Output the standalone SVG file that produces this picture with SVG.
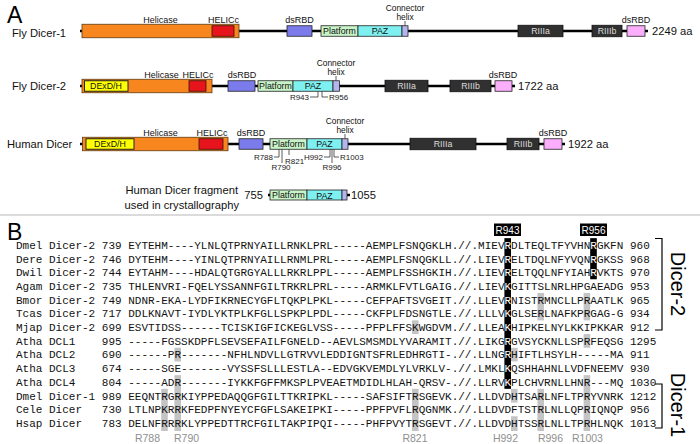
<svg xmlns="http://www.w3.org/2000/svg" width="700" height="444" viewBox="0 0 700 444">
<style>
.sans{font-family:"Liberation Sans",Arial,sans-serif}
.panel{font-family:"Liberation Sans",Arial,sans-serif;font-size:23px;fill:#000}
.sp{font-family:"Liberation Sans",Arial,sans-serif;font-size:11.2px;fill:#111}
.lab{font-family:"Liberation Sans",Arial,sans-serif;font-size:9px;text-anchor:middle;fill:#111}
.chx{font-family:"Liberation Sans",Arial,sans-serif;font-size:8.4px;text-anchor:middle;fill:#111}
.in{font-family:"Liberation Sans",Arial,sans-serif;font-size:8.8px;text-anchor:middle;fill:#111}
.inw{font-family:"Liberation Sans",Arial,sans-serif;font-size:8.8px;text-anchor:middle;fill:#ddd}
.tl{font-family:"Liberation Sans",Arial,sans-serif;font-size:8px;fill:#222}
.bb{stroke:#000;stroke-width:2.6}
.hel{fill:#f7861e;stroke:#5e3b12;stroke-width:0.8}
.dex{fill:#ffff00;stroke:#222;stroke-width:1}
.red{fill:#e8141c;stroke:#3a1010;stroke-width:0.8}
.ds{fill:#7b7bec;stroke:#222;stroke-width:0.8}
.plat{fill:#c8f4c8;stroke:#222;stroke-width:0.8}
.paz{fill:#7ff0f0;stroke:#222;stroke-width:0.8}
.con{fill:#b4b4ee;stroke:#222;stroke-width:0.8}
.rn{fill:#303030;stroke:#111;stroke-width:0.8}
.pk{fill:#fbaefb;stroke:#222;stroke-width:0.8}
.tick{stroke:#333;stroke-width:0.8;fill:none}
.mono{font-family:"Liberation Mono","Courier New",monospace;font-size:11px;fill:#111;white-space:pre}
.w{fill:#fff}
.blk{fill:#000}
.gry{fill:#c4c4c4}
.gl{font-family:"Liberation Sans",Arial,sans-serif;font-size:10.5px;fill:#8f8f8f;text-anchor:middle}
.big{font-family:"Liberation Sans",Arial,sans-serif;font-size:20px;fill:#000;text-anchor:middle}
</style>
<rect width="700" height="444" fill="#fff"/>

<text class="panel" x="7" y="23">A</text>

<g id="fly-dicer-1">
<text class="sp" x="12" y="36.5">Fly Dicer-1</text>
<line class="bb" x1="80" y1="31" x2="648" y2="31"/>
<rect class="hel" x="82" y="24.25" width="157" height="13.5"/>
<rect class="red" x="212" y="25.75" width="22" height="10.5"/>
<rect class="ds" x="287" y="25.75" width="25" height="10.5"/>
<rect class="plat" x="321" y="25.75" width="37" height="10.5"/>
<rect class="paz" x="358" y="25.75" width="44" height="10.5"/>
<rect class="con" x="402" y="25.75" width="6" height="10.5"/>
<rect class="rn" x="518" y="25.25" width="45" height="11.5"/>
<rect class="rn" x="592" y="25.25" width="30" height="11.5"/>
<rect class="pk" x="627" y="25.75" width="18" height="10.5"/>
<text class="in" x="339.5" y="34.2">Platform</text>
<text class="in" x="380" y="34.4">PAZ</text>
<text class="inw" x="540.5" y="34.4">RIIIa</text>
<text class="inw" x="607" y="34.4">RIIIb</text>
<text class="lab" x="160.5" y="23">Helicase</text>
<text class="lab" x="223.5" y="23">HELICc</text>
<text class="lab" x="299.5" y="23">dsRBD</text>
<text class="chx" x="405" y="11">Connector</text>
<text class="chx" x="405" y="19.5">helix</text>
<text class="lab" x="636" y="23">dsRBD</text>
<text class="sp" x="652" y="35">2249 aa</text>
</g>

<g id="fly-dicer-2">
<text class="sp" x="12" y="90">Fly Dicer-2</text>
<line class="bb" x1="80" y1="86" x2="515" y2="86"/>
<rect class="hel" x="82" y="79.25" width="130" height="13.5"/>
<rect class="dex" x="84.5" y="80.75" width="43.5" height="10.5"/>
<rect class="red" x="189" y="80.75" width="17" height="10.5"/>
<rect class="ds" x="228" y="80.75" width="27" height="10.5"/>
<rect class="plat" x="258" y="80.75" width="35" height="10.5"/>
<rect class="paz" x="293" y="80.75" width="40" height="10.5"/>
<rect class="con" x="333" y="80.75" width="6.5" height="10.5"/>
<rect class="rn" x="385" y="80.25" width="43" height="11.5"/>
<rect class="rn" x="450" y="80.25" width="41" height="11.5"/>
<rect class="pk" x="495" y="80.75" width="17" height="10.5"/>
<text class="in" x="106" y="89.3">DExD/H</text>
<text class="in" x="275.5" y="89.2">Platform</text>
<text class="in" x="313" y="89.4">PAZ</text>
<text class="inw" x="406.5" y="89.4">RIIIa</text>
<text class="inw" x="470.5" y="89.4">RIIIb</text>
<text class="lab" x="161.5" y="78">Helicase</text>
<text class="lab" x="198" y="78">HELICc</text>
<text class="lab" x="242" y="78">dsRBD</text>
<text class="chx" x="336" y="66">Connector</text>
<text class="chx" x="336" y="74.5">helix</text>
<text class="lab" x="503" y="78">dsRBD</text>
<text class="sp" x="518" y="90">1722 aa</text>
<text class="tl" x="309" y="100" text-anchor="end">R943</text>
<text class="tl" x="329" y="100">R956</text>
</g>

<g id="human-dicer">
<text class="sp" x="7" y="148">Human Dicer</text>
<line class="bb" x1="80" y1="144" x2="565" y2="144"/>
<rect class="hel" x="82.5" y="137.25" width="145.5" height="13.5"/>
<rect class="dex" x="86" y="138.75" width="48" height="10.5"/>
<rect class="red" x="199" y="138.75" width="24" height="10.5"/>
<rect class="ds" x="239" y="138.75" width="24" height="10.5"/>
<rect class="plat" x="270" y="138.75" width="37" height="10.5"/>
<rect class="paz" x="307" y="138.75" width="35" height="10.5"/>
<rect class="con" x="342" y="138.75" width="6" height="10.5"/>
<rect class="rn" x="410" y="138.25" width="66" height="11.5"/>
<rect class="rn" x="507" y="138.25" width="32" height="11.5"/>
<rect class="pk" x="544" y="138.75" width="18" height="10.5"/>
<text class="in" x="110" y="147.3">DExD/H</text>
<text class="in" x="288.5" y="147.2">Platform</text>
<text class="in" x="324.5" y="147.4">PAZ</text>
<text class="inw" x="443" y="147.4">RIIIa</text>
<text class="inw" x="523" y="147.4">RIIIb</text>
<text class="lab" x="160.5" y="136">Helicase</text>
<text class="lab" x="212" y="136">HELICc</text>
<text class="lab" x="251" y="136">dsRBD</text>
<text class="chx" x="345" y="124">Connector</text>
<text class="chx" x="345" y="132.5">helix</text>
<text class="lab" x="553" y="136">dsRBD</text>
<text class="sp" x="568" y="148">1922 aa</text>
<text class="tl" x="273" y="160" text-anchor="end">R788</text>
<text class="tl" x="281" y="170" text-anchor="middle">R790</text>
<text class="tl" x="285" y="164">R821</text>
<text class="tl" x="323" y="160" text-anchor="end">H992</text>
<text class="tl" x="332" y="170" text-anchor="middle">R996</text>
<text class="tl" x="340" y="160">R1003</text>
</g>

<g id="human-dicer-fragment">
<text class="sans" x="238" y="194" font-size="11.2" fill="#111" text-anchor="end">Human Dicer fragment</text>
<text class="sans" x="239" y="209" font-size="11.2" fill="#111" text-anchor="end">used in crystallography</text>
<text class="sp" x="263" y="199" text-anchor="end">755</text>
<line class="bb" x1="268" y1="195" x2="350" y2="195"/>
<rect class="plat" x="270" y="190" width="37" height="10"/>
<rect class="paz" x="307" y="190" width="35" height="10"/>
<rect class="con" x="342" y="190" width="5" height="10"/>
<text class="in" x="288.5" y="198.3">Platform</text>
<text class="in" x="324.5" y="198.5">PAZ</text>
<text class="sp" x="351" y="199">1055</text>
</g>

<g id="connectors">
<path class="tick" d="M405,21 V25.75 M336,76 V80.75 M345,134 V138.75"/>
<path class="tick" d="M318,91.25 V97 H310 M322,91.25 V97 H328"/>
<path class="tick" d="M279,149.25 V157 H274 M282,149.25 V163 M289,149.25 V155 M330,149.25 V157 H324 M332,149.25 V163 M334,149.25 V157 H339"/>
</g>

<line x1="0" y1="215" x2="700" y2="215" stroke="#cfcfcf" stroke-width="1.5"/>

<text class="panel" x="7" y="240">B</text>

<g id="alignment">
<rect class="blk" x="504.4" y="238.15" width="6.6" height="150.7"/>
<rect class="blk" x="590.2" y="238.15" width="6.6" height="41.1"/>
<rect class="gry" x="161.2" y="388.85" width="6.6" height="42.15"/>
<rect class="gry" x="174.4" y="347.75" width="6.6" height="13.7"/>
<rect class="gry" x="174.4" y="375.15" width="6.6" height="55.85"/>
<rect class="gry" x="412" y="320.35" width="6.6" height="13.7"/>
<rect class="gry" x="412" y="388.85" width="6.6" height="42.15"/>
<rect class="gry" x="511" y="347.75" width="6.6" height="13.7"/>
<rect class="gry" x="511" y="388.85" width="6.6" height="13.7"/>
<rect class="gry" x="511" y="416.25" width="6.6" height="14.75"/>
<rect class="gry" x="537.4" y="292.95" width="6.6" height="27.4"/>
<rect class="gry" x="537.4" y="388.85" width="6.6" height="42.15"/>
<rect class="gry" x="583.6" y="292.95" width="6.6" height="27.4"/>
<rect class="gry" x="583.6" y="334.05" width="6.6" height="13.7"/>
<rect class="gry" x="583.6" y="375.15" width="6.6" height="55.85"/>

<rect class="blk" x="494" y="223.5" width="27" height="12.5"/>
<rect class="blk" x="580" y="223.5" width="27" height="12.5"/>
<text class="sans" x="507.5" y="233.6" font-size="10" fill="#fff" text-anchor="middle">R943</text>
<text class="sans" x="593.5" y="233.6" font-size="10" fill="#fff" text-anchor="middle">R956</text>

<g xml:space="preserve">
<text class="mono" x="16" y="248.8">Dmel Dicer-2 739 EYTEHM----YLNLQTPRNYAILLRNKLPRL-----AEMPLFSNQGKLH.//.MIEV<tspan class="w">R</tspan>DLTEQLTFYVHN<tspan class="w">R</tspan>GKFN 960</text>
<text class="mono" x="16" y="262.5">Dere Dicer-2 746 DYTEHM----YINLQTPRNYAILLRNMLPRL-----AEMPLFSNQGKLL.//.LIEV<tspan class="w">R</tspan>ELTDQLNFYVQN<tspan class="w">R</tspan>GKSS 968</text>
<text class="mono" x="16" y="276.2">Dwil Dicer-2 744 EYTAHM----HDALQTGRGYALLLRKRLPPL-----AEMPLFSSHGKIH.//.LIEV<tspan class="w">R</tspan>ELTQQLNFYIAH<tspan class="w">R</tspan>VKTS 970</text>
<text class="mono" x="16" y="289.9">Agam Dicer-2 735 THLENVRI-FQELYSSANNFGILTRKRLPRL-----ARMKLFVTLGAIG.//.LIEV<tspan class="w">K</tspan>GITTSLNRLHPGAEADG 953</text>
<text class="mono" x="16" y="303.6">Bmor Dicer-2 749 NDNR-EKA-LYDFIKRNECYGFLTQKPLPKL-----CEFPAFTSVGEIT.//.LLEV<tspan class="w">R</tspan>NISTRMNCLLPRAATLK 965</text>
<text class="mono" x="16" y="317.3">Tcas Dicer-2 717 DDLKNAVT-IYDLYKTPLKFGLLSPKPLPDL-----CKFPLFDSNGTLE.//.LLLV<tspan class="w">K</tspan>GLSERLNAFKPRGAG-G 934</text>
<text class="mono" x="16" y="331">Mjap Dicer-2 699 ESVTIDSS------TCISKIGFICKEGLVSS-----PFPLFFSKWGDVM.//.LLEA<tspan class="w">K</tspan>HIPKELNYLKKIPKKAR 912</text>
<text class="mono" x="16" y="344.7">Atha DCL1    995 -----FGSSKDPFLSEVSEFAILFGNELD--AEVLSMSMDLYVARAMIT.//.LIKG<tspan class="w">R</tspan>GVSYCKNLLSPRFEQSG 1295</text>
<text class="mono" x="16" y="358.4">Atha DCL2    690 ------PR-------NFHLNDVLLGTRVVLEDDIGNTSFRLEDHRGTI-.//.LLNG<tspan class="w">R</tspan>HIFTLHSYLH-----MA 911</text>
<text class="mono" x="16" y="372.1">Atha DCL3    674 -----SGE-------VYSSFSLLLESTLA--EDVGKVEMDLYLVRKLV-.//.LMKL<tspan class="w">K</tspan>QSHHAHNLLVDFNEEMV 930</text>
<text class="mono" x="16" y="385.8">Atha DCL4    804 -----ADR-------IYKKFGFFMKSPLPVEAETMDIDLHLAH-QRSV-.//.LLRV<tspan class="w">K</tspan>PLCHVRNLLHNR---MQ 1030</text>
<text class="mono" x="16" y="399.5">Dmel Dicer-1 989 EEQNTRGRKIYPPEDAQQGFGILTTKRIPKL-----SAFSIFTRSGEVK.//.LLDVDHTSARLNFLTPRYVNRK 1212</text>
<text class="mono" x="16" y="413.2">Cele Dicer   730 LTLNPKRRKFEDPFNYEYCFGFLSAKEIPKI-----PPFPVFLRQGNMK.//.LLDVDFTSTRLNLLQPRIQNQP 956</text>
<text class="mono" x="16" y="426.9">Hsap Dicer   783 DELNFRRRKLYPPEDTTRCFGILTAKPIPQI-----PHFPVYTRSGEVT.//.LLDVDHTSSRLNLLTPRHLNQK 1013</text>
</g>

<text class="gl" x="160" y="442" style="text-anchor:end">R788</text>
<text class="gl" x="174" y="442" style="text-anchor:start">R790</text>
<text class="gl" x="415" y="442">R821</text>
<text class="gl" x="505.5" y="442">H992</text>
<text class="gl" x="550.5" y="442">R996</text>
<text class="gl" x="587.5" y="442">R1003</text>
</g>

<g id="group-brackets">
<path d="M655,238.5 H662 V330 H655" fill="none" stroke="#000" stroke-width="1.2"/>
<path d="M655,384 H662 V428 H655" fill="none" stroke="#000" stroke-width="1.2"/>
<text class="big" transform="translate(671,284) rotate(90)">Dicer-2</text>
<text class="big" transform="translate(671,405) rotate(90)">Dicer-1</text>
</g>
</svg>
